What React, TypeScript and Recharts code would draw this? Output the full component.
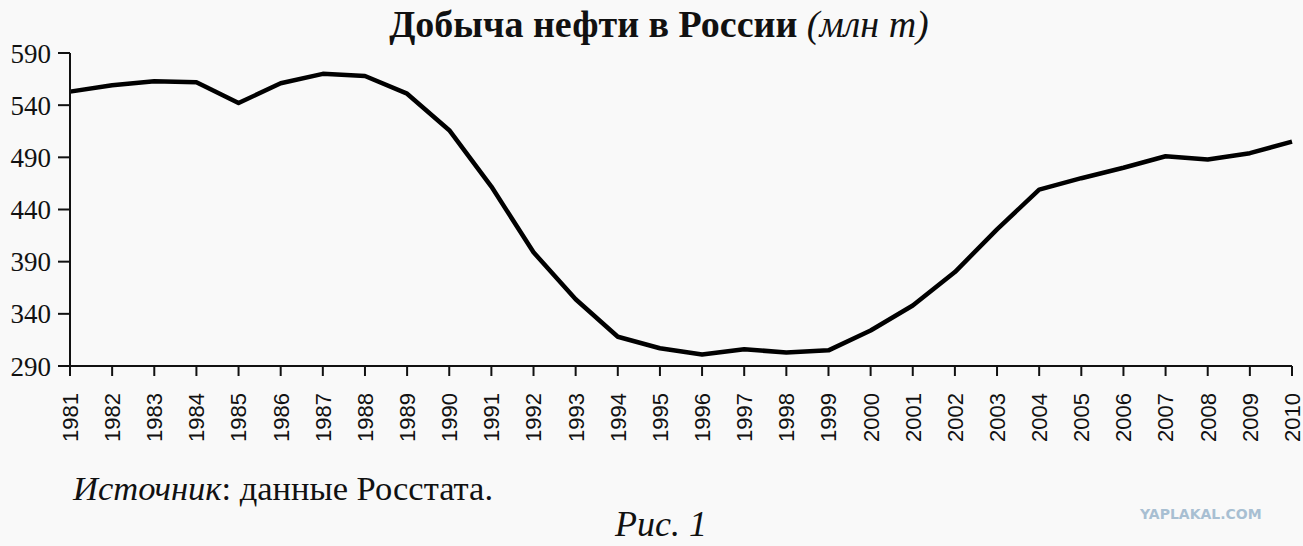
import React from "react";
import { Line, LineChart, XAxis, YAxis } from "recharts";

const years = [
  "1981", "1982", "1983", "1984", "1985", "1986", "1987", "1988", "1989", "1990",
  "1991", "1992", "1993", "1994", "1995", "1996", "1997", "1998", "1999", "2000",
  "2001", "2002", "2003", "2004", "2005", "2006", "2007", "2008", "2009", "2010",
];

const output = [
  553, 559, 563, 562, 542, 561, 570, 568, 551, 516,
  462, 399, 354, 318, 307, 301, 306, 303, 305, 324,
  348, 380, 421, 459, 470, 480, 491, 488, 494, 505,
];

const yTicks = [290, 340, 390, 440, 490, 540, 590];

const data = years.map((year, i) => ({ year, value: output[i] }));

const serif = "'Liberation Serif', 'DejaVu Serif', serif";
const sans = "'Liberation Sans', Arial, sans-serif";

function YearTick(props: any) {
  const { x, y, payload } = props;
  return (
    <text
      x={x}
      y={y}
      dy="0.36em"
      dx={-15}
      transform={`rotate(-90 ${x} ${y})`}
      textAnchor="end"
      fontFamily={sans}
      fontSize={22}
      fill="#111"
    >
      {payload.value}
    </text>
  );
}

export default function App() {
  return (
    <div
      style={{
        position: "absolute",
        left: 0,
        top: 0,
        width: 1303,
        height: 546,
        background: "#f9f9f9",
        overflow: "hidden",
      }}
    >
      <div
        style={{
          position: "absolute",
          top: 5,
          left: 0,
          width: 1318,
          textAlign: "center",
          fontFamily: serif,
          fontSize: 38,
          lineHeight: "38px",
          color: "#111",
          whiteSpace: "nowrap",
        }}
      >
        <b>Добыча нефти в России</b> <i>(млн т)</i>
      </div>

      <LineChart
        width={1303}
        height={546}
        data={data}
        margin={{ top: 53, right: 11, bottom: 100, left: 8 }}
        style={{ position: "absolute", left: 0, top: 0 }}
      >
        <XAxis
          dataKey="year"
          interval={0}
          height={80}
          tick={<YearTick />}
          tickSize={10}
          axisLine={{ stroke: "#111", strokeWidth: 2 }}
          tickLine={{ stroke: "#111", strokeWidth: 2 }}
        />
        <YAxis
          domain={[290, 590]}
          ticks={yTicks}
          width={62}
          tickSize={12}
          tickMargin={7}
          axisLine={{ stroke: "#111", strokeWidth: 2 }}
          tickLine={{ stroke: "#111", strokeWidth: 2 }}
          tick={{ fontFamily: serif, fontSize: 27, fill: "#111" }}
        />
        <Line
          type="linear"
          dataKey="value"
          stroke="#000"
          strokeWidth={4.5}
          strokeLinejoin="round"
          dot={false}
          activeDot={false}
          isAnimationActive={false}
        />
      </LineChart>

      <div
        style={{
          position: "absolute",
          left: 73,
          top: 471,
          fontFamily: serif,
          fontSize: 34.5,
          lineHeight: "34px",
          color: "#111",
          whiteSpace: "nowrap",
        }}
      >
        <i>Источник</i>: данные Росстата.
      </div>
      <div
        style={{
          position: "absolute",
          left: 615,
          top: 507,
          fontFamily: serif,
          fontSize: 36,
          lineHeight: "34px",
          fontStyle: "italic",
          color: "#111",
          whiteSpace: "nowrap",
        }}
      >
        Рис. 1
      </div>
      <div
        style={{
          position: "absolute",
          left: 1140,
          top: 506,
          fontFamily: "'DejaVu Sans', sans-serif",
          fontWeight: "bold",
          fontSize: 14,
          color: "#a8bfd2",
          whiteSpace: "nowrap",
        }}
      >
        YAPLAKAL.COM
      </div>
    </div>
  );
}
